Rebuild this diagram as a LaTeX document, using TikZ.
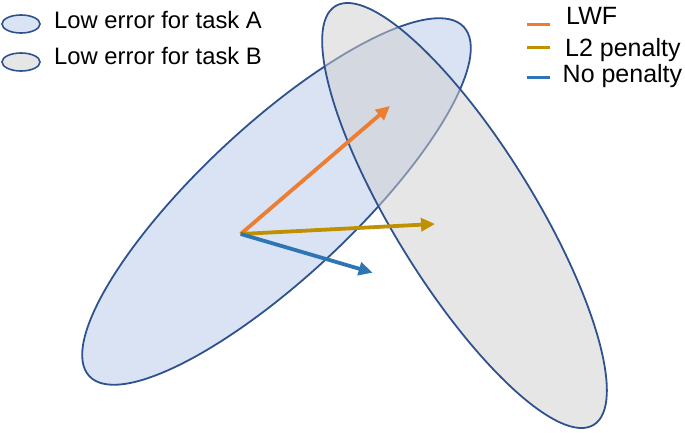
\documentclass[tikz,border=0pt]{standalone}
\usepackage{fontspec}
\setmainfont{Liberation Sans}
\usetikzlibrary{arrows.meta}

\definecolor{edgeblue}{RGB}{47,82,143}
\definecolor{taskAfill}{RGB}{180,199,231}
\definecolor{taskBfill}{RGB}{208,206,206}
\definecolor{lwforange}{RGB}{237,125,49}
\definecolor{ltwogold}{RGB}{191,144,0}
\definecolor{nopenblue}{RGB}{46,117,182}

\newcommand{\legendfont}{\fontsize{23.8}{28}\selectfont}
\newcommand{\keyfont}{\fontsize{25}{30}\selectfont}

\begin{document}
\begin{tikzpicture}[x=1pt,y=1pt,
    region/.style={draw=edgeblue, line width=1.8pt, fill opacity=0.5},
    vec/.style={line width=3.8pt, -{Triangle[length=14pt,width=13pt]}},
    key/.style={line width=3pt},
    label/.style={anchor=base west, inner sep=0pt, font=\legendfont}]

        \useasboundingbox (0,0) rectangle (685,432);

        % タスクAの低誤差領域
        \draw[region, fill=taskAfill] (276.5,230.5) ellipse[x radius=256, y radius=76, rotate=43];

        % タスクBの低誤差領域
        \draw[region, fill=taskBfill] (464.5,216.5) ellipse[x radius=246, y radius=70, rotate=-58.3];

        % 更新ベクトル
        \coordinate (O) at (240.7,198);
        \coordinate (lwf) at (390,326);
        \coordinate (ltwo) at (435,208);
        \coordinate (nopen) at (372.7,159.3);
        \draw[vec, lwforange] (O) -- (lwf);
        \draw[vec, ltwogold] (O) -- (ltwo);
        \draw[vec, nopenblue] (O) -- (nopen);

        % 凡例（左）
        \draw[region, fill=taskAfill, line width=1.6pt] (21,408) ellipse[x radius=19, y radius=9];
        \draw[region, fill=taskBfill, line width=1.6pt] (21,370) ellipse[x radius=19, y radius=9];
        \node[label] (keyA) at (54,403) {Low error for task A};
        \node[label] (keyB) at (54,367) {Low error for task B};

        % 凡例（右）
        \draw[key, lwforange] (527,407) -- (550,407);
        \draw[key, ltwogold] (527,384) -- (550,384);
        \draw[key, nopenblue] (527,354) -- (550,354);
        \node[label, font=\keyfont] (keyLWF) at (566,407) {LWF};
        \node[label, font=\keyfont] (keyL2) at (565,375.3) {L2 penalty};
        \node[label, font=\keyfont] (keyNo) at (562.5,349.7) {No penalty};

\end{tikzpicture}
\end{document}
